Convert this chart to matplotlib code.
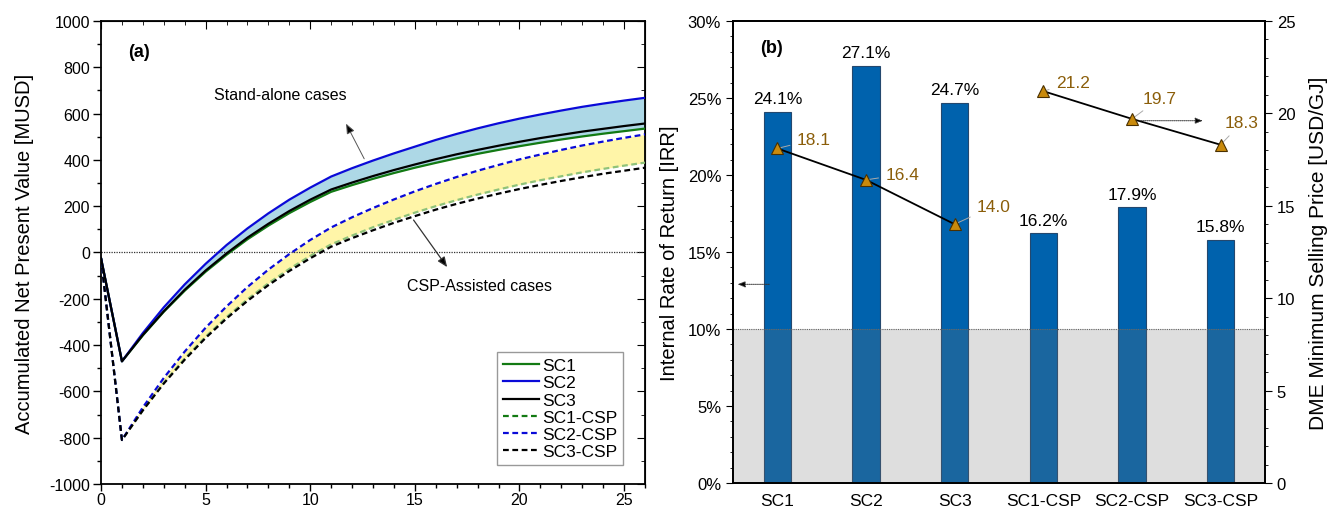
import matplotlib
matplotlib.use("Agg")
import matplotlib.pyplot as plt
from matplotlib.lines import Line2D
from matplotlib.ticker import MultipleLocator, FuncFormatter
import numpy as np

plt.rcParams['font.family'] = ['Liberation Sans', 'DejaVu Sans']
plt.rcParams['axes.unicode_minus'] = False

# ---------------- data: panel (a) ----------------
years = list(range(0, 27))
sc1 = [-25, -470, -358, -256, -165, -83, -10, 57, 116, 170, 218, 262, 291, 318, 343,
       366, 387, 407, 426, 443, 459, 474, 488, 501, 513, 524, 535]
sc2 = [-25, -470, -348, -237, -138, -49, 32, 104, 169, 228, 280, 328, 364, 397, 428,
       457, 486, 512, 536, 558, 578, 596, 613, 629, 643, 656, 668]
sc3 = [-25, -470, -356, -254, -161, -78, -4, 64, 124, 179, 228, 272, 302, 330, 356,
       380, 403, 424, 443, 461, 478, 494, 508, 522, 534, 546, 557]
sc1_csp = [-25, -810, -680, -563, -458, -364, -279, -202, -133, -71, -15, 35, 73, 109, 141,
           172, 200, 226, 250, 272, 293, 312, 329, 346, 361, 375, 388]
sc2_csp = [-25, -810, -669, -542, -428, -325, -233, -149, -74, -7, 54, 108, 152, 192, 229,
           264, 296, 326, 353, 378, 402, 423, 443, 462, 479, 495, 510]
sc3_csp = [-25, -810, -682, -566, -463, -369, -285, -209, -141, -80, -25, 25, 62, 96, 128,
           157, 185, 210, 233, 254, 274, 292, 309, 325, 340, 353, 366]

# ---------------- data: panel (b) ----------------
cases = ["SC1", "SC2", "SC3", "SC1-CSP", "SC2-CSP", "SC3-CSP"]
irr = [24.1, 27.1, 24.7, 16.2, 17.9, 15.8]          # %
msp = [18.1, 16.4, 14.0, 21.2, 19.7, 18.3]          # USD/GJ
msp_labels = ["18.1", "16.4", "14.0", "21.2", "19.7", "18.3"]

fig = plt.figure(figsize=(13.31, 5.10), dpi=100)

# ================= panel (a) =================
ax = fig.add_axes([0.0759, 0.049, 0.4087, 0.908])
GREEN = '#137a13'
BLUE = '#0a0ad8'
ax.fill_between(years, sc1, sc2, color='#add8e6', lw=0, zorder=1)
ax.fill_between(years, sc1_csp, sc2_csp, color='#fff5a8', lw=0, zorder=1)
ax.axhline(0, color='#333333', lw=0.9, ls=(0, (1, 1)), zorder=2)
dash = (0, (2.6, 1.6))
ax.plot(years, sc1_csp, color='#8fc27a', lw=1.6, ls=dash, zorder=3)
ax.plot(years, sc2_csp, color=BLUE, lw=1.6, ls=dash, zorder=3)
ax.plot(years, sc3_csp, color='black', lw=1.6, ls=dash, zorder=3)
ax.plot(years, sc1, color=GREEN, lw=1.6, zorder=3)
ax.plot(years, sc2, color=BLUE, lw=1.6, zorder=3)
ax.plot(years, sc3, color='black', lw=1.6, zorder=3)

ax.set_xlim(0, 26)
ax.set_ylim(-1000, 1000)
ax.xaxis.set_major_locator(MultipleLocator(5))
ax.xaxis.set_minor_locator(MultipleLocator(1))
ax.yaxis.set_major_locator(MultipleLocator(200))
ax.yaxis.set_minor_locator(MultipleLocator(100))
ax.tick_params(which='major', direction='out', length=6, width=1, labelsize=11.5, pad=2)
ax.tick_params(axis='x', which='major', length=5, pad=1)
ax.tick_params(which='minor', direction='out', length=3, width=1)
for s in ax.spines.values():
    s.set_linewidth(1.3)
secx = ax.secondary_xaxis('top')
secx.xaxis.set_major_locator(MultipleLocator(5))
secx.xaxis.set_minor_locator(MultipleLocator(1))
secx.tick_params(which='major', direction='in', length=6, labeltop=False)
secx.tick_params(which='minor', direction='in', length=3)
secy = ax.secondary_yaxis('right')
secy.yaxis.set_major_locator(MultipleLocator(200))
secy.yaxis.set_minor_locator(MultipleLocator(100))
secy.tick_params(which='major', direction='in', length=6, labelright=False)
secy.tick_params(which='minor', direction='in', length=3)

ax.set_ylabel("Accumulated Net Present Value [MUSD]", fontsize=14.5, labelpad=11)
ax.text(1.8, 866, "(a)", fontsize=13, fontweight='bold', ha='center', va='center')
ax.text(8.55, 683, "Stand-alone cases", fontsize=11.5, ha='center', va='center')
ax.text(18.1, -141, "CSP-Assisted cases", fontsize=11.5, ha='center', va='center')
ax.annotate("", xy=(11.65, 567), xytext=(12.64, 394),
            arrowprops=dict(arrowstyle='-|>,head_length=0.6,head_width=0.25',
                            color='#555555', lw=0.7, fc='black', ec='#555555'))
ax.annotate("", xy=(16.62, -73), xytext=(14.86, 150),
            arrowprops=dict(arrowstyle='-|>,head_length=0.6,head_width=0.25',
                            color='#333333', lw=0.9, fc='black'))

handles = [Line2D([], [], color=GREEN, lw=1.6),
           Line2D([], [], color=BLUE, lw=1.6),
           Line2D([], [], color='black', lw=1.6),
           Line2D([], [], color=GREEN, lw=1.6, ls=dash),
           Line2D([], [], color=BLUE, lw=1.6, ls=dash),
           Line2D([], [], color='black', lw=1.6, ls=dash)]
leg = ax.legend(handles, ["SC1", "SC2", "SC3", "SC1-CSP", "SC2-CSP", "SC3-CSP"],
                loc='lower right', bbox_to_anchor=(0.96, 0.04), fontsize=12.5,
                frameon=True, fancybox=False, edgecolor='#999999', framealpha=1,
                handlelength=2.1, handletextpad=0.15, labelspacing=0.12,
                borderpad=0.35, borderaxespad=0)
leg.get_frame().set_linewidth(1.0)

# ================= panel (b) =================
bx = fig.add_axes([0.5507, 0.051, 0.3997, 0.906])
x = np.arange(len(cases))
bars = bx.bar(x, irr, width=0.31, color='#0062ad', edgecolor='#24486e', lw=0.8, zorder=2)
bx.axhspan(0, 10, color='#747474', alpha=0.23, lw=0, zorder=3)
bx.axhline(10, color='#666666', lw=0.8, ls=(0, (1, 1)), zorder=4)
for xi, v in zip(x, irr):
    bx.annotate(f"{v:.1f}%", (xi, v), xytext=(0, 4), textcoords='offset points',
                ha='center', va='bottom', fontsize=12.5)
bx.set_xlim(-0.5, 5.5)
bx.set_ylim(0, 30)
bx.set_xticks(x)
bx.set_xticklabels(cases, fontsize=12.5)
bx.yaxis.set_major_locator(MultipleLocator(5))
bx.yaxis.set_minor_locator(MultipleLocator(1))
bx.yaxis.set_major_formatter(FuncFormatter(lambda v, p: f"{v:.0f}%"))
bx.tick_params(axis='x', length=0, pad=7)
bx.tick_params(axis='y', which='major', direction='out', length=5, labelsize=12)
bx.tick_params(axis='y', which='minor', direction='out', length=2.5)
bx.set_ylabel("Internal Rate of Return [IRR]", fontsize=14.5, labelpad=6)
for s in bx.spines.values():
    s.set_linewidth(1.3)
bx.text(-0.06, 28.3, "(b)", fontsize=13, fontweight='bold', ha='center', va='center')
bx.annotate("", xy=(-0.48, 12.9), xytext=(-0.06, 12.9),
            arrowprops=dict(arrowstyle='-|>,head_length=0.45,head_width=0.18',
                            color='#333333', lw=0.7, ls=(0, (1, 1)), fc='black'), zorder=5)

tx = bx.twinx()
tx.set_ylim(0, 25)
tx.yaxis.set_major_locator(MultipleLocator(5))
tx.yaxis.set_minor_locator(MultipleLocator(1))
tx.tick_params(axis='y', which='major', direction='out', length=5, labelsize=12)
tx.tick_params(axis='y', which='minor', direction='out', length=2.5)
tx.set_ylabel("DME Minimum Selling Price [USD/GJ]", fontsize=15, labelpad=10)
for s in tx.spines.values():
    s.set_linewidth(1.3)
tx.plot(x[:3], msp[:3], color='black', lw=1.3, zorder=3)
tx.plot(x[3:], msp[3:], color='black', lw=1.3, zorder=3)
tx.plot(x, msp, ls='none', marker='^', ms=8, mfc='#c98a0c', mec='#4a3000', mew=0.8, zorder=4)
offs = [(14, 6.5), (14, 4), (16, 13), (9, 6), (8, 15), (3, 16)]
for xi, v, lab, off in zip(x, msp, msp_labels, offs):
    tx.annotate(lab, (xi, v), xytext=off, textcoords='offset points',
                ha='left', va='center', fontsize=12.5, color='#8b5e0a',
                arrowprops=dict(arrowstyle='-', color='#aaaaaa', lw=0.7,
                                shrinkA=3, shrinkB=2))
tx.annotate("", xy=(4.83, 19.6), xytext=(4.05, 19.6),
            arrowprops=dict(arrowstyle='-|>,head_length=0.45,head_width=0.18',
                            color='#333333', lw=0.7, ls=(0, (1, 1)), fc='black'))

fig.savefig("out.png", dpi=100)
